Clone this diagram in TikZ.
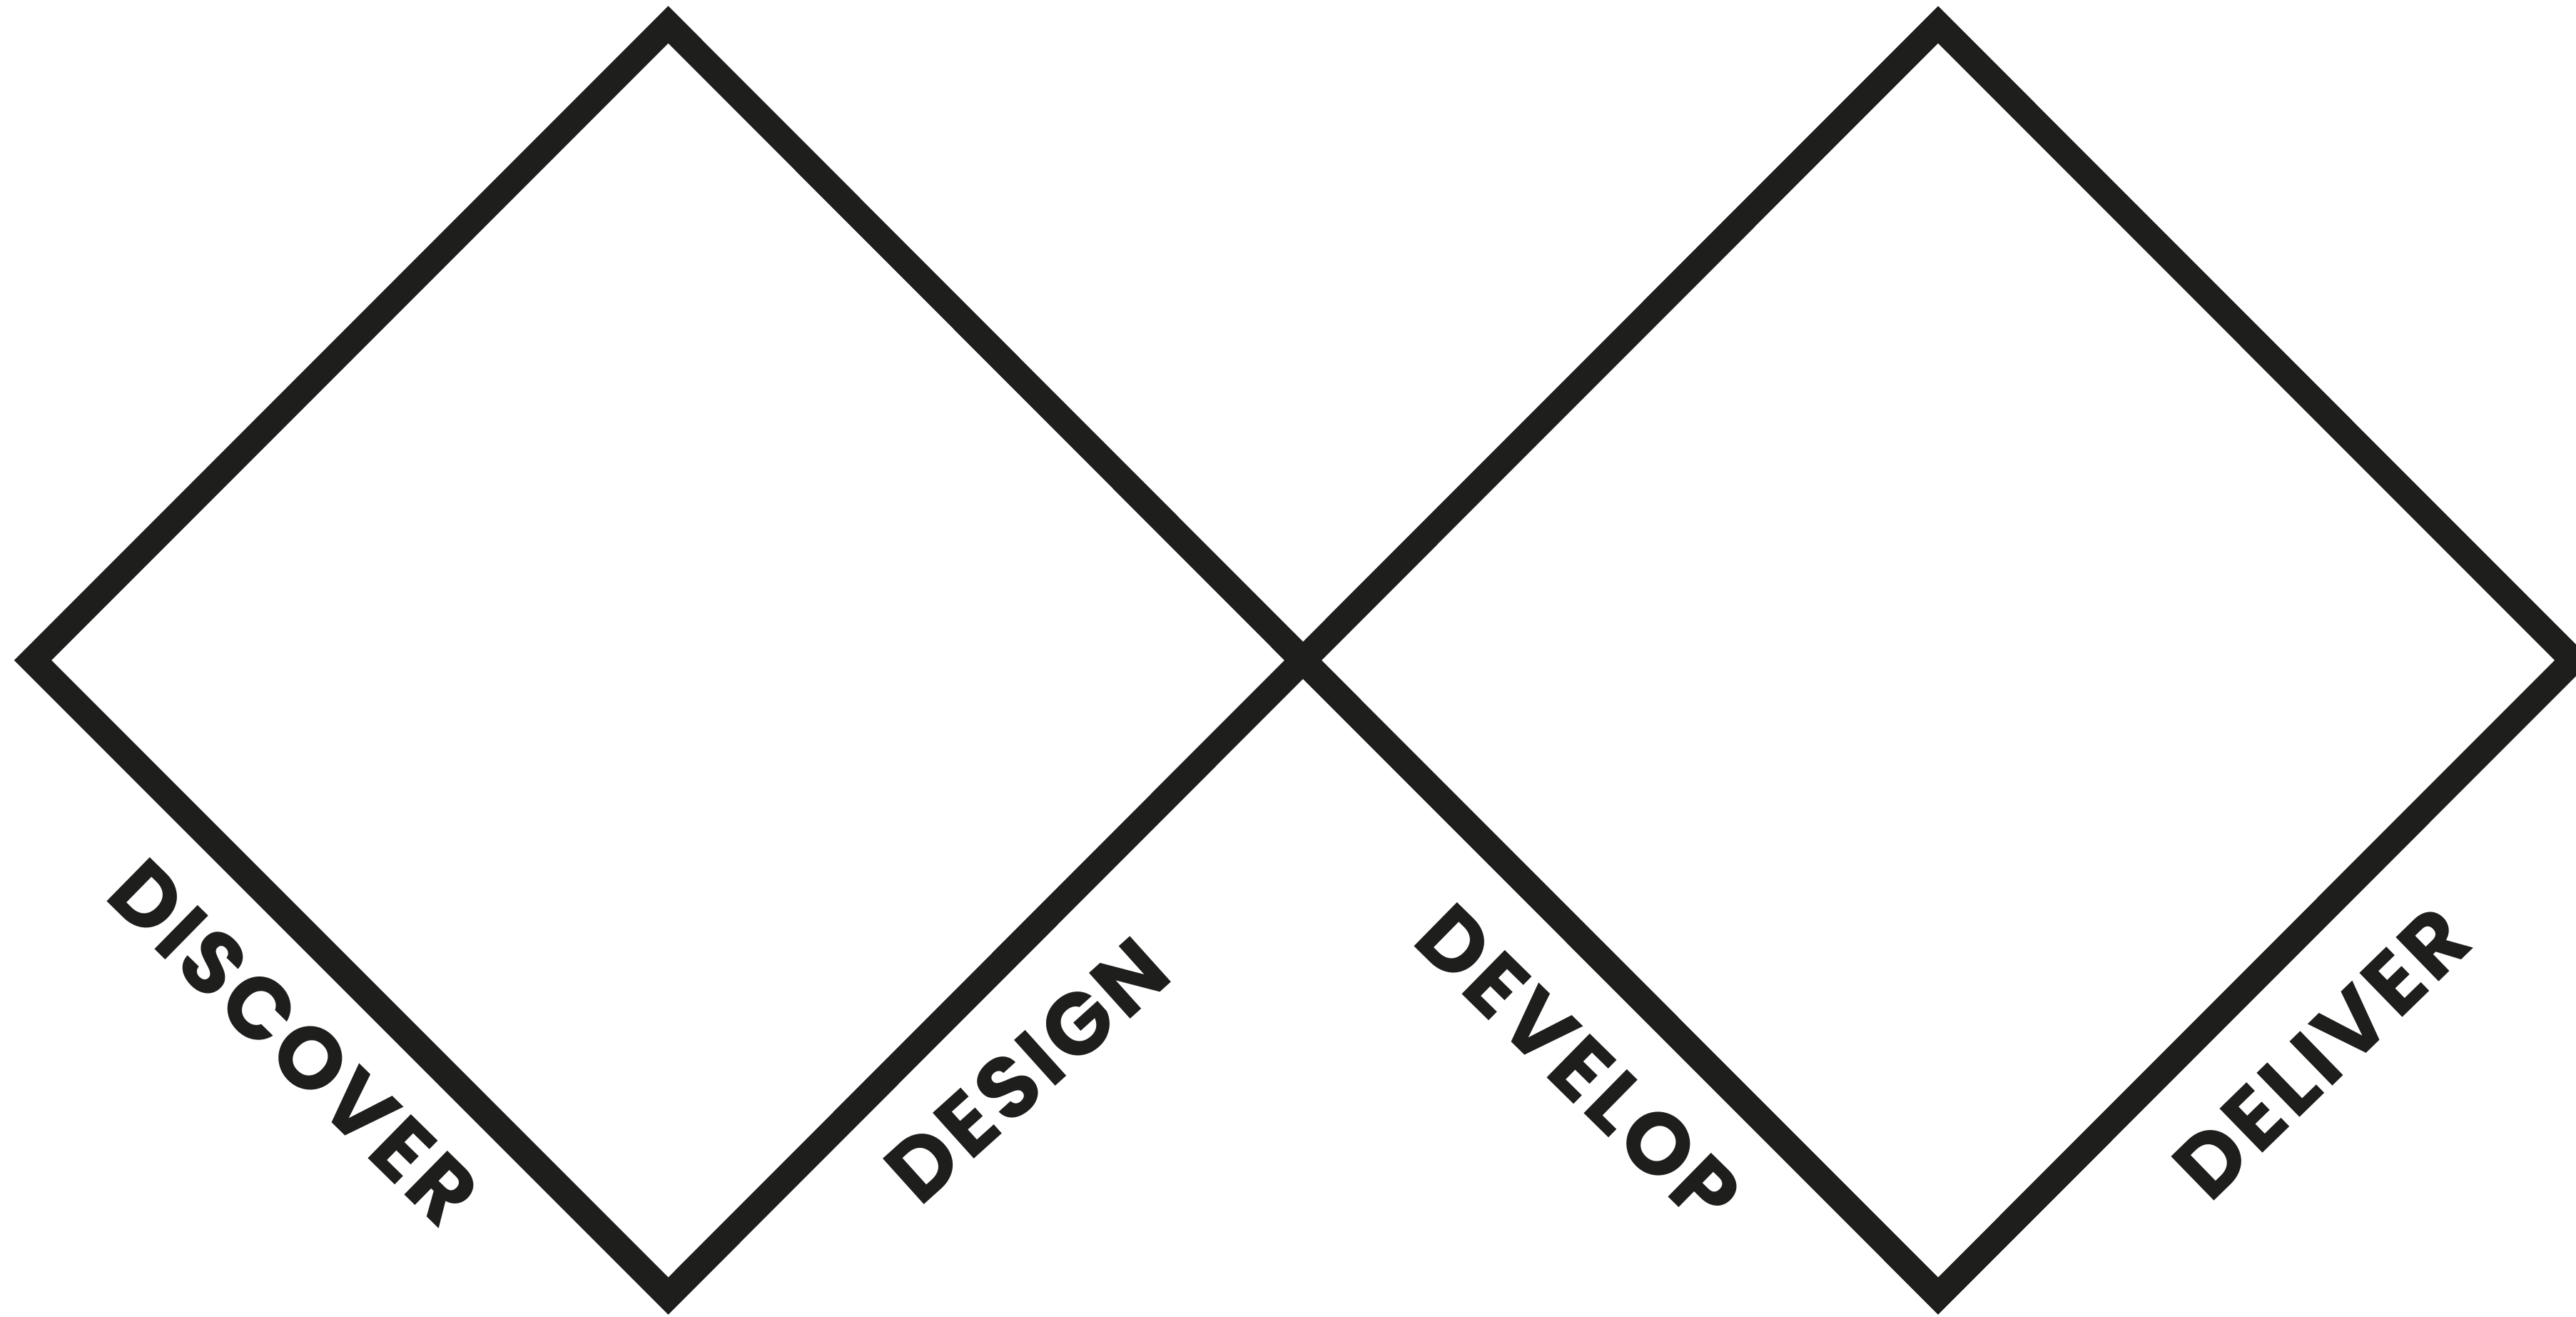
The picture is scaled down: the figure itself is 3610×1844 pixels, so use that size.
\documentclass[tikz,border=0pt]{standalone}
\usepackage{fontspec}
\setmainfont{Poppins}
\newfontfamily\labfont{Poppins}[LetterSpace=4.5]
\definecolor{ink}{RGB}{30,30,28}
\tikzset{
  diam/.style={draw=ink, line width=0.368cm, line join=miter, miter limit=10},
  lab/.style={font=\labfont\fontsize{34.9}{42}\selectfont\bfseries, text=ink, inner sep=0pt, anchor=center}
}
\begin{document}
\begin{tikzpicture}[x=0.01cm,y=-0.01cm]
\useasboundingbox (0,0) rectangle (3610,1844);
\coordinate (L1) at (46,925);
\coordinate (T1) at (936.5,34.5);
\coordinate (R1) at (1826,925);
\coordinate (B1) at (936.5,1815.5);
\coordinate (T2) at (2716,34.5);
\coordinate (R2) at (3606,925);
\coordinate (B2) at (2716,1815.5);
\draw[diam] (L1) -- (T1) -- (R1) -- (B1) -- cycle;
\draw[diam] (R1) -- (T2) -- (R2) -- (B2) -- cycle;
\node[lab, rotate=-44.5] (discover) at (412,1460) {DISCOVER};
\node[lab, rotate=42] (design) at (1439,1499) {DESIGN};
\node[lab, rotate=-44.5] (develop) at (2212,1492) {DEVELOP};
\node[lab, rotate=44.2] (deliver) at (3254,1475) {DELIVER};
\end{tikzpicture}
\end{document}
